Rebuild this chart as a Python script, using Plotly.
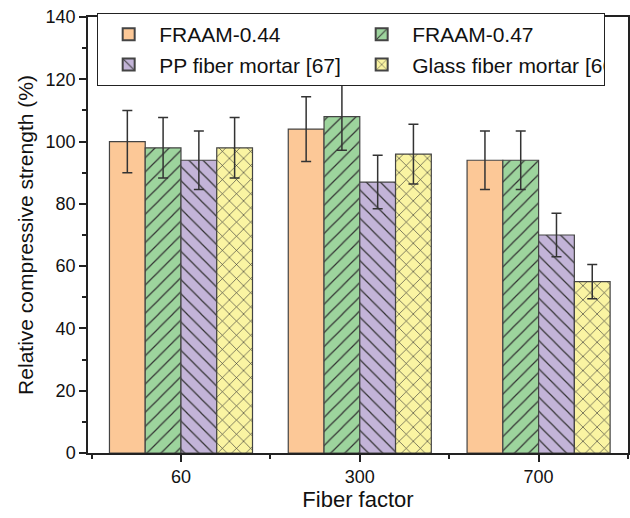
import plotly.graph_objects as go

categories = ["60", "300", "700"]
series_names = ["FRAAM-0.44", "FRAAM-0.47", "PP fiber mortar [67]", "Glass fiber mortar [66]"]
fraam_044 = [100, 104, 94]
fraam_044_err = [10, 10.4, 9.4]
fraam_047 = [98, 108, 94]
fraam_047_err = [9.7, 10.8, 9.4]
pp_mortar = [94, 87, 70]
pp_mortar_err = [9.4, 8.6, 7]
glass_mortar = [98, 96, 55]
glass_mortar_err = [9.7, 9.6, 5.5]

values = [fraam_044, fraam_047, pp_mortar, glass_mortar]
errors = [fraam_044_err, fraam_047_err, pp_mortar_err, glass_mortar_err]
colors = ["#FCC897", "#9DD49D", "#C3B4D8", "#FAF4A2"]
patterns = ["", "/", "\\", "x"]

xpos = list(range(len(categories)))
FONT = "Liberation Sans, Arial, sans-serif"

fig = go.Figure()
for name, v, e, c, p in zip(series_names, values, errors, colors, patterns):
    fig.add_trace(go.Bar(
        x=xpos, y=v, name=name,
        marker=dict(color=c, line=dict(color="#444444", width=1.2),
                    pattern=dict(shape=p, fgcolor="#333333", size=10, solidity=0.12, fgopacity=1)),
        error_y=dict(type="data", array=e, visible=True, color="#333333", thickness=1.5, width=5),
    ))

fig.update_layout(
    width=630, height=518,
    margin=dict(l=88, r=0, t=17, b=65),
    barmode="group", bargap=0.2, bargroupgap=0,
    plot_bgcolor="white", paper_bgcolor="white",
    font=dict(family=FONT, size=18, color="#111111"),
    legend=dict(orientation="h", x=0.017, y=1.009, xanchor="left", yanchor="top",
                bgcolor="white", bordercolor="#222222", borderwidth=1,
                font=dict(size=21, family=FONT), entrywidth=187, entrywidthmode="pixels",
                itemwidth=51, tracegroupgap=0, itemsizing="constant"),
    xaxis=dict(
        range=[-0.52, 2.5], tickvals=xpos, ticktext=categories,
        ticks="outside", ticklen=7, tickwidth=1.5, tickcolor="#222222",
        showline=True, linecolor="#222222", linewidth=1.5, mirror=True,
        showgrid=False, zeroline=False,
        tickfont=dict(size=18),
        minor=dict(tickvals=[-0.5, 0.5, 1.5, 2.5], ticks="outside", ticklen=4, tickcolor="#222222", tickwidth=1.5, showgrid=False),
        title=dict(text="Fiber factor", font=dict(size=22), standoff=4),
    ),
    yaxis=dict(
        range=[0, 140], dtick=20, ticks="outside", ticklen=7, tickwidth=1.5, tickcolor="#222222",
        showline=True, linecolor="#222222", linewidth=1.5, mirror=True,
        showgrid=False, zeroline=False,
        tickfont=dict(size=18),
        minor=dict(dtick=10, ticks="outside", ticklen=4, tickcolor="#222222", tickwidth=1.5, showgrid=False),
        title=dict(text="Relative compressive strength (%)", font=dict(size=21), standoff=6),
    ),
)

fig.write_html("out.html")
